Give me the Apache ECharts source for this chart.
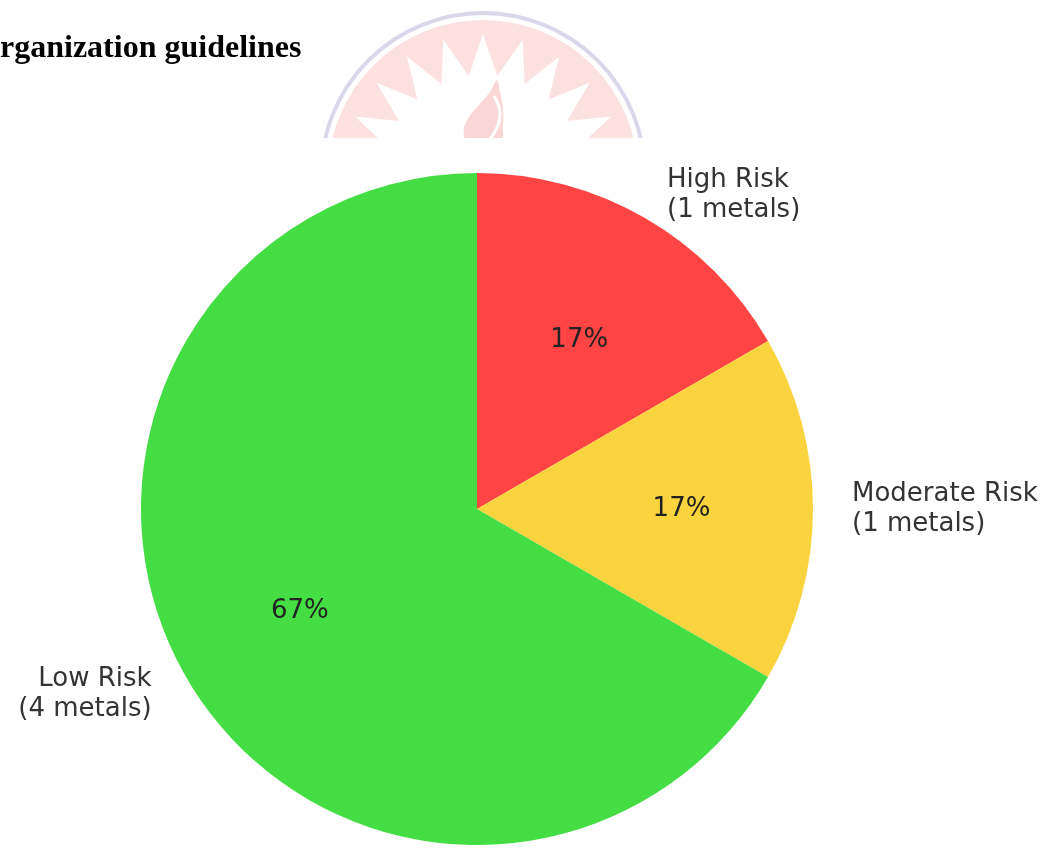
<!DOCTYPE html>
<html>
<head>
<meta charset="utf-8">
<script src="https://cdn.jsdelivr.net/npm/echarts@6/dist/echarts.min.js"></script>
<style>
html,body{margin:0;padding:0;background:#fff;}
#chart{width:1055px;height:856px;}
</style>
</head>
<body>
<div id="chart"></div>
<script>
// ---- data ----
const categories = ['High Risk', 'Moderate Risk', 'Low Risk'];
const metalCounts = [1, 1, 4];
const sliceColors = ['#ff4444', '#fad43e', '#44dd44'];
const titleText = 'rganization guidelines';

const chart = echarts.init(document.getElementById('chart'), null, {renderer: 'canvas'});

const CX = 477, CY = 509, R = 336;

const pieData = categories.map((c, i) => ({
  name: c,
  value: metalCounts[i],
  itemStyle: {color: sliceColors[i]}
}));
const pctData = categories.map((c, i) => ({
  name: c,
  value: metalCounts[i]
}));

// decorative watermark (sunburst) behind the page
const WX = 483, WY = 175;
const starPts = [];
const nSpikes = 22, rOut = 141, rIn = 100;
for (let k = 0; k < nSpikes * 2; k++) {
  const a = Math.PI / 2 + k * Math.PI / nSpikes;
  const rr = (k % 2 === 0) ? rOut : rIn;
  starPts.push([WX + rr * Math.cos(a), WY - rr * Math.sin(a)]);
}
const flamePts = [[497,80],[490,92],[479,105],[469,117],[464,128],[466,140],[501,140],[503,126],[503,108],[500,92]];

const option = {
  backgroundColor: '#ffffff',
  animation: false,
  graphic: [
    {type: 'circle', z: 0, shape: {cx: WX, cy: WY, r: 162}, style: {fill: '#ffffff', stroke: '#d9d8ea', lineWidth: 4}},
    {type: 'circle', z: 0, shape: {cx: WX, cy: WY, r: 155}, style: {fill: '#fde0e0'}},
    {type: 'polygon', z: 0, shape: {points: starPts}, style: {fill: '#ffffff'}},
    {type: 'polygon', z: 0, shape: {points: flamePts, smooth: 0.3}, style: {fill: '#fad6d6'}},
    {type: 'bezierCurve', z: 0, shape: {x1: 494, y1: 96, cpx1: 508, cpy1: 118, x2: 489, y2: 140}, style: {fill: null, stroke: '#ffffff', lineWidth: 3}},
    {type: 'rect', z: 1, shape: {x: 0, y: 138, width: 1055, height: 718}, style: {fill: '#ffffff'}},
    {type: 'text', z: 5, x: 0, y: 65, style: {text: titleText, font: 'bold 32px "Liberation Serif", "Times New Roman", serif', fill: '#000000', textAlign: 'left', textVerticalAlign: 'bottom'}}
  ],
  series: [
    {
      type: 'pie',
      z: 3,
      center: [CX, CY],
      radius: [0, R],
      startAngle: 90,
      clockwise: true,
      avoidLabelOverlap: false,
      silent: true,
      data: pieData,
      itemStyle: {borderWidth: 0},
      label: {
        show: true,
        position: 'outside',
        formatter: p => p.name + '\n(' + p.value + ' metals)',
        fontFamily: 'DejaVu Sans',
        fontSize: 26,
        lineHeight: 30,
        color: '#333333'
      },
      labelLayout: p => (p.dataIndex === 0 ? {dy: 7} : {}),
      labelLine: {show: false, length: 34, length2: 0},
      emphasis: {disabled: true}
    },
    {
      type: 'pie',
      z: 4,
      center: [CX, CY],
      radius: [67, R],
      startAngle: 90,
      clockwise: true,
      avoidLabelOverlap: false,
      silent: true,
      data: pctData,
      itemStyle: {color: 'rgba(0,0,0,0)', borderWidth: 0},
      label: {
        show: true,
        position: 'inside',
        formatter: p => Math.round(p.percent) + '%',
        fontFamily: 'DejaVu Sans',
        fontSize: 26,
        color: '#222222'
      },
      labelLayout: p => (p.dataIndex === 0 ? {dy: 8} : {}),
      labelLine: {show: false},
      emphasis: {disabled: true}
    }
  ]
};
chart.setOption(option);
</script>
</body>
</html>
